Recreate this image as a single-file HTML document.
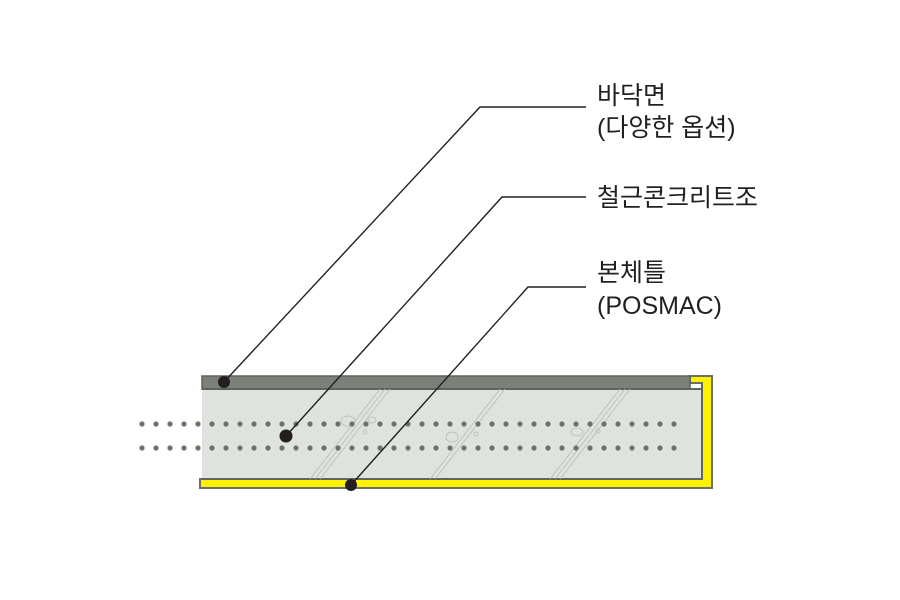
<!DOCTYPE html>
<html><head><meta charset="utf-8"><style>
html,body{margin:0;padding:0;background:#fff;width:900px;height:600px;overflow:hidden}
text{font-family:"Liberation Sans","Noto Sans CJK KR",sans-serif;font-size:25px;fill:#231f20}
</style></head><body>
<svg width="900" height="600" viewBox="0 0 900 600" xmlns="http://www.w3.org/2000/svg">
<rect x="202" y="389" width="500" height="90" fill="#dfe3dd"/>
<path d="M200 479 H702 V383 H690 V376 H712 V488 H200 Z" fill="#fff200" stroke="#6d6e68" stroke-width="2"/>
<rect x="202" y="376" width="488" height="13" fill="#7b8079" stroke="#5f625d" stroke-width="1.5"/>
<line x1="202" y1="389" x2="702" y2="389" stroke="#5f625d" stroke-width="2"/>
<line x1="702" y1="383" x2="702" y2="479" stroke="#5f625d" stroke-width="2"/>
<line x1="202" y1="479" x2="702" y2="479" stroke="#5f625d" stroke-width="1.5"/>
<g stroke="#b8bcb6" stroke-width="0.8" fill="none">
<line x1="310" y1="479" x2="380" y2="389"/><line x1="315" y1="479" x2="385" y2="389"/><line x1="320" y1="479" x2="390" y2="389"/>
<line x1="430" y1="479" x2="500" y2="389"/><line x1="435" y1="479" x2="505" y2="389"/>
<line x1="550" y1="479" x2="620" y2="389"/><line x1="555" y1="479" x2="625" y2="389"/><line x1="560" y1="479" x2="630" y2="389"/>
<ellipse cx="348" cy="421" rx="7" ry="5"/><ellipse cx="372" cy="420" rx="4" ry="3"/><circle cx="365" cy="432" r="2"/>
<ellipse cx="452" cy="437" rx="6" ry="5"/><circle cx="476" cy="434" r="2"/>
<ellipse cx="577" cy="432" rx="6" ry="4"/><circle cx="598" cy="431" r="2"/>
</g>
<g fill="#6d706b" id="dots"></g>
<g stroke="#231f20" stroke-width="1.4" fill="none">
<polyline points="224,382 480,107 586,107"/>
<polyline points="286,436 502,197 586,197"/>
<polyline points="351,485 528,287 586,287"/>
</g>
<g fill="#231f20">
<circle cx="224" cy="382" r="6"/><circle cx="286" cy="436" r="6.5"/><circle cx="351" cy="485" r="6"/>
</g>
<text x="597" y="104">바닥면</text>
<text x="597" y="136">(다양한 옵션)</text>
<text x="597" y="206">철근콘크리트조</text>
<text x="597" y="281">본체틀</text>
<text x="597" y="314">(POSMAC)</text>
</svg>
<script>
var g=document.getElementById('dots'),s='';
for(var x=142;x<=680;x+=14){s+='<circle cx="'+x+'" cy="424" r="2.6"/><circle cx="'+x+'" cy="448" r="2.6"/>';}
g.innerHTML=s;
</script>
</body></html>
